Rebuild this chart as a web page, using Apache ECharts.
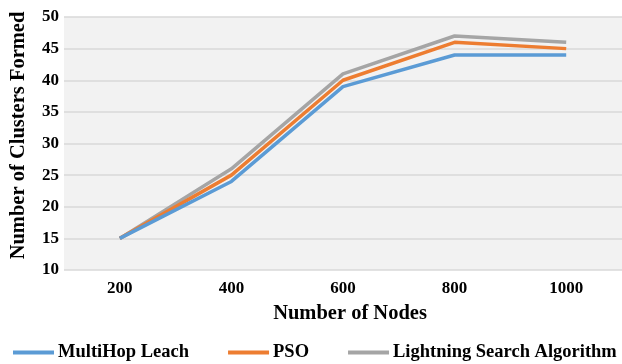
<!DOCTYPE html>
<html><head><meta charset="utf-8">
<script src="https://cdn.jsdelivr.net/npm/echarts@6/dist/echarts.min.js"></script>
<style>html,body{margin:0;padding:0;background:#fff}#c{width:622px;height:364px}</style>
</head><body><div id="c"></div>
<script>
const categories = ['200', '400', '600', '800', '1000'];
const multiHop = [15, 24, 39, 44, 44];
const pso = [15, 25, 40, 46, 45];
const lsa = [15, 26, 41, 47, 46];
const seriesNames = ['MultiHop Leach', 'PSO', 'Lightning Search Algorithm'];
const colors = ['#5B9BD5', '#ED7D31', '#A5A5A5'];
const font = 'Liberation Serif';
const chart = echarts.init(document.getElementById('c'));
chart.setOption({
  animation: false,
  color: colors,
  grid: {left: 63, right: -5, top: 17, bottom: 94, show: true, backgroundColor: '#f2f2f2', borderWidth: 0},
  legend: {
    bottom: 2, left: 13, padding: 0, itemWidth: 41, itemHeight: 4, itemGap: 39,
    icon: 'rect',
    textStyle: {fontFamily: font, fontWeight: 'bold', fontSize: 18.5, color: '#000', padding: [0,0,0,-1]},
    data: seriesNames
  },
  xAxis: {
    type: 'category', data: categories, boundaryGap: true,
    name: 'Number of Nodes', nameLocation: 'middle', nameGap: 33,
    nameTextStyle: {fontFamily: font, fontWeight: 'bold', fontSize: 20.5, color: '#000', padding: [0,0,0,14]},
    axisLine: {show: false}, axisTick: {show: false},
    axisLabel: {fontFamily: font, fontWeight: 'bold', fontSize: 17, color: '#000', margin: 10}
  },
  yAxis: {
    type: 'value', min: 10, max: 50, interval: 5,
    name: 'Number of Clusters Formed', nameLocation: 'middle', nameGap: 35,
    nameTextStyle: {fontFamily: font, fontWeight: 'bold', fontSize: 20.5, color: '#000', padding: [0,0,0,16]},
    axisLine: {show: false}, axisTick: {show: false},
    axisLabel: {fontFamily: font, fontWeight: 'bold', fontSize: 17, color: '#000', margin: 5},
    splitLine: {lineStyle: {color: '#d9d9d9', width: 1.5}}
  },
  series: [
    {name: seriesNames[0], type: 'line', data: multiHop, showSymbol: false, lineStyle: {width: 3.5}, z: 3},
    {name: seriesNames[1], type: 'line', data: pso, showSymbol: false, lineStyle: {width: 3.5}, z: 2},
    {name: seriesNames[2], type: 'line', data: lsa, showSymbol: false, lineStyle: {width: 3.5}, z: 1}
  ]
});
</script></body></html>
